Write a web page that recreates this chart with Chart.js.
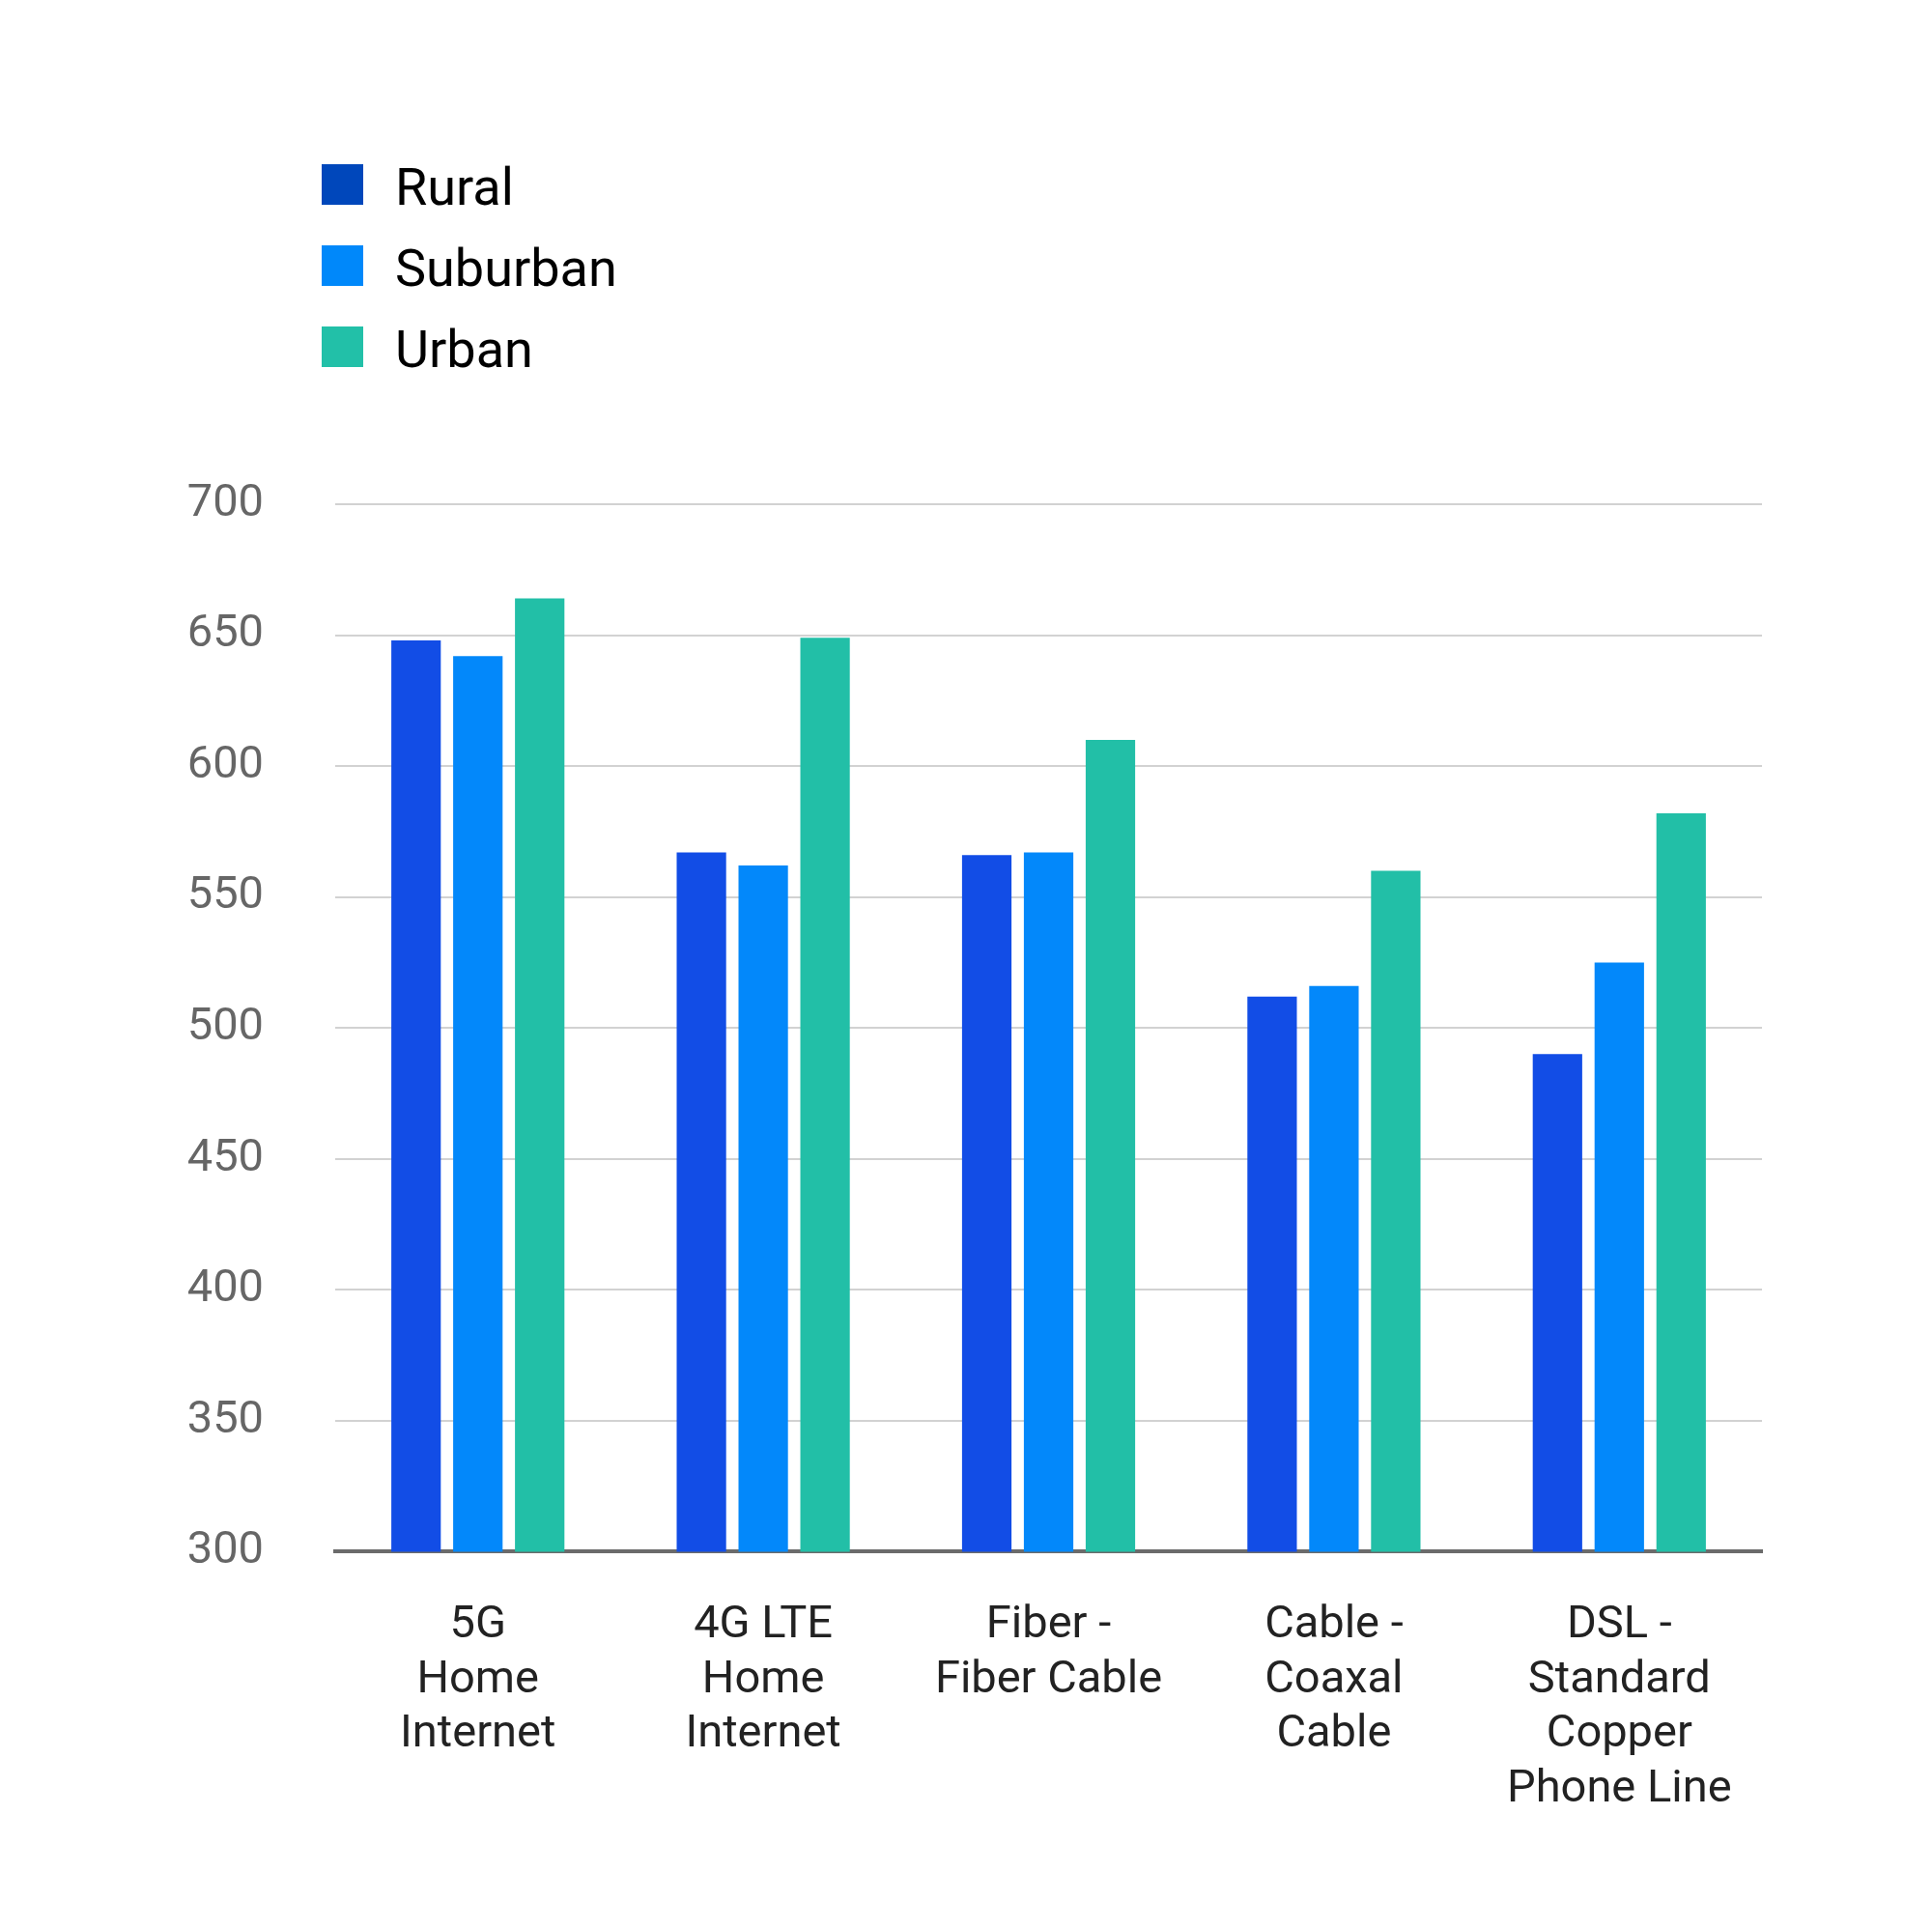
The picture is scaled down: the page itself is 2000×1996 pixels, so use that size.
<!DOCTYPE html>
<html>
<head>
<meta charset="utf-8">
<script src="https://cdn.jsdelivr.net/npm/chart.js@4"></script>
<style>
  html, body { margin: 0; padding: 0; background: #fff; }
  #wrap { position: relative; width: 2000px; height: 1996px; }
</style>
</head>
<body>
<div id="wrap"><canvas id="plot"></canvas></div>
<script>
// values
const categories = [
    ['5G', 'Home', 'Internet'],
    ['4G LTE', 'Home', 'Internet'],
    ['Fiber -', 'Fiber Cable'],
    ['Cable -', 'Coaxal', 'Cable'],
    ['DSL -', 'Standard', 'Copper', 'Phone Line']
];
const seriesNames = ['Rural', 'Suburban', 'Urban'];
const rural = [648, 567, 566, 512, 490];
const suburban = [642, 562, 567, 516, 525];
const urban = [664, 649, 610, 560, 582];
const yTicks = [300, 350, 400, 450, 500, 550, 600, 650, 700];

const barColors = ['#124de6', '#0388fa', '#22bfa7'];
const legendColors = ['#0047bb', '#0088fa', '#22c0a8'];

// legend stacked top-left, drawn on the canvas
const stackedLegend = {
    id: 'stackedLegend',
    afterDraw(chart) {
        const ctx = chart.ctx;
        ctx.save();
        ctx.font = '54px Roboto';
        ctx.textBaseline = 'alphabetic';
        ctx.textAlign = 'left';
        chart.data.datasets.forEach((ds, i) => {
            const base = 212 + i * 84;
            ctx.fillStyle = legendColors[i];
            ctx.fillRect(333, base - 42, 43, 42);
            ctx.fillStyle = '#000';
            ctx.fillText(ds.label, 409, base);
        });
        ctx.restore();
    }
};

const canvas = document.getElementById('plot');
const ctx = canvas.getContext('2d');

const data = {
    labels: categories,
    datasets: [
        { label: seriesNames[0], data: rural, backgroundColor: barColors[0] },
        { label: seriesNames[1], data: suburban, backgroundColor: barColors[1] },
        { label: seriesNames[2], data: urban, backgroundColor: barColors[2] }
    ]
};

const config = {
    type: 'bar',
    data: data,
    plugins: [stackedLegend],
    options: {
        responsive: true,
        maintainAspectRatio: false,
        devicePixelRatio: 1,
        animation: false,
        categoryPercentage: 0.65,
        barPercentage: 0.8,
        layout: { padding: { top: 522, right: 176, bottom: 66, left: 0 } },
        plugins: {
            legend: { display: false },
            tooltip: { enabled: false }
        },
        scales: {
            x: {
                z: 1,
                grid: { display: false, drawTicks: false },
                border: { display: true, color: '#6b6b6b', width: 4 },
                ticks: {
                    padding: 49,
                    maxRotation: 0,
                    autoSkip: false,
                    color: '#222',
                    font: { family: 'Roboto', size: 47, lineHeight: 1.2 }
                }
            },
            y: {
                min: 300,
                max: 700,
                afterBuildTicks(scale) {
                    scale.ticks = yTicks.map(v => ({ value: v }));
                },
                afterFit(scale) { scale.width = 347; },
                grid: { color: '#d2d2d2', lineWidth: 2, drawTicks: false },
                border: { display: false },
                ticks: {
                    padding: 74,
                    color: '#666',
                    font: { family: 'Roboto', size: 47 }
                }
            }
        }
    }
};

const plot = () => {
    let chartStatus = Chart.getChart('plot');
    if (chartStatus != undefined) {
        chartStatus.destroy();
    }
    new Chart(ctx, config);
};

plot();
</script>
</body>
</html>
